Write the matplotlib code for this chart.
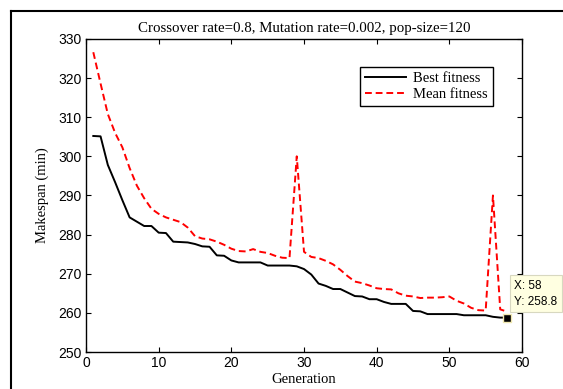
import matplotlib
matplotlib.use('Agg')
import matplotlib.pyplot as plt
from matplotlib.lines import Line2D

# Data
generations = list(range(1, 59))
best_fitness = [305.2, 305.1, 297.8, 293.4, 288.8, 284.4, 283.3, 282.2, 282.2, 280.5,
                280.4, 278.2, 278.1, 278.0, 277.6, 277.0, 276.9, 274.7, 274.6, 273.4,
                272.9, 272.9, 272.9, 272.9, 272.1, 272.1, 272.1, 272.1, 271.9, 271.2,
                269.8, 267.5, 266.9, 266.1, 266.1, 265.2, 264.3, 264.2, 263.5, 263.5,
                262.8, 262.3, 262.3, 262.3, 260.5, 260.4, 259.7, 259.7, 259.7, 259.7,
                259.7, 259.4, 259.4, 259.4, 259.4, 259.0, 258.8, 258.8]
mean_fitness = [326.6, 318.6, 310.8, 306.0, 302.3, 297.0, 292.5, 289.3, 286.6, 285.3,
                284.4, 283.8, 283.2, 281.8, 279.6, 279.0, 278.8, 278.2, 277.4, 276.4,
                275.8, 275.7, 276.3, 275.6, 275.3, 274.6, 274.1, 274.0, 300.0, 275.6,
                274.3, 274.0, 273.3, 272.4, 271.0, 269.4, 268.0, 267.6, 267.0, 266.3,
                266.1, 266.0, 265.0, 264.4, 264.2, 263.8, 263.9, 263.9, 264.0, 264.2,
                263.1, 262.4, 261.3, 260.7, 260.6, 290.0, 260.9, 260.3]
x_ticks = [0, 10, 20, 30, 40, 50, 60]
y_ticks = [250, 260, 270, 280, 290, 300, 310, 320, 330]
tip_x = 58
tip_y = 258.8

serif = 'Liberation Serif'
sans = 'Liberation Sans'

fig = plt.figure(figsize=(5.63, 3.89), dpi=100)
ax = fig.add_axes([0.1528, 0.095, 0.7744, 0.805])

ax.plot(generations, best_fitness, color='black', lw=1.4, label='Best fitness')
ax.plot(generations, mean_fitness, color='red', lw=1.4, dashes=(3.5, 2),
        label='Mean fitness')

ax.set_xlim(0, 60)
ax.set_ylim(250, 330)
ax.set_xticks(x_ticks)
ax.set_yticks(y_ticks)
ax.tick_params(direction='in', length=3.5, width=0.8, top=True, right=True,
               labelsize=10, pad=3)
for lbl in ax.get_xticklabels() + ax.get_yticklabels():
    lbl.set_family(sans)
for sp in ax.spines.values():
    sp.set_linewidth(1.0)

ax.set_title('Crossover rate=0.8, Mutation rate=0.002, pop-size=120',
             family=serif, fontsize=10.75, pad=5)
ax.set_xlabel('Generation', family=serif, fontsize=10.5, labelpad=2)
ax.set_ylabel('Makespan (min)', family=serif, fontsize=10.5, labelpad=7)

leg = ax.legend(loc='upper right', bbox_to_anchor=(0.933, 0.911),
                borderaxespad=0, fancybox=False, framealpha=1,
                handlelength=2.8, prop={'family': serif, 'size': 10.5},
                borderpad=0.35, labelspacing=0.2, handletextpad=0.5)
leg.get_frame().set_edgecolor('black')
leg.get_frame().set_linewidth(1.0)

# data tip
ax.plot([tip_x], [tip_y], marker='s', ms=6, color='black', mec='#f0e8b0',
        mew=1, clip_on=False, zorder=5)
ax.annotate('X: %d\nY: %.1f' % (tip_x, tip_y), xy=(tip_x, tip_y),
            xytext=(7, 10), textcoords='offset pixels', ha='left', va='bottom',
            family=sans, fontsize=8.5, linespacing=1.45,
            bbox=dict(boxstyle='square,pad=0.35', fc='#ffffe1', ec='#d8d8c0', lw=0.8),
            annotation_clip=False, zorder=6)

# page frame around the figure
fig.add_artist(Line2D([11 / 563, 11 / 563], [0, 1 - 11 / 389], color='black', lw=1.5))
fig.add_artist(Line2D([11 / 563, 1], [1 - 11 / 389, 1 - 11 / 389], color='black', lw=1.5))

fig.savefig('out.png', dpi=100)
